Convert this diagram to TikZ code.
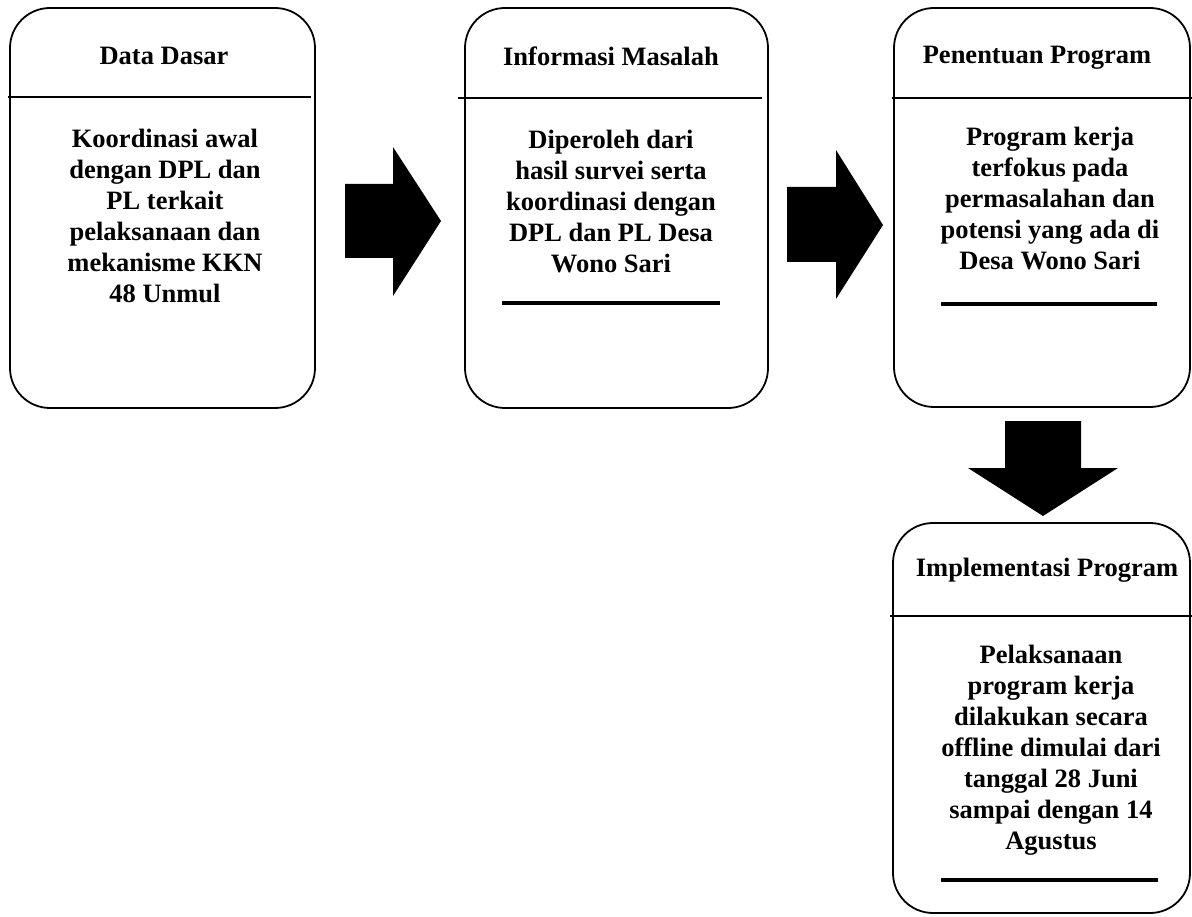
\documentclass[tikz,border=0pt]{standalone}
\usepackage{fontspec}
\setmainfont{Liberation Serif}
\usepackage{tikz}

\tikzset{
  stage/.style={draw, line width=1.8pt, rounded corners=40pt, inner sep=0pt},
  head/.style={font=\fontsize{26.5}{31}\selectfont\bfseries, inner sep=0pt, anchor=base},
  body/.style={font=\fontsize{26.5}{31}\selectfont\bfseries, align=center, inner sep=0pt},
  divider/.style={line width=1.8pt},
  bar/.style={line width=3.5pt},
  blockarrow/.style={fill=black}
}

\begin{document}
\begin{tikzpicture}[x=1pt, y=-1pt]
    \useasboundingbox (0,0) rectangle (1192,917);

    % Data Dasar
    \node[stage, minimum width=305pt, minimum height=400pt] (dasar) at (162.5,208) {};
    \node[head] (dasar-t) at (164,65) {Data Dasar};
    \draw[divider] (8,97) -- (311,97);
    \node[body] (dasar-b) at (165,216) {Koordinasi awal\\dengan DPL dan\\PL terkait\\pelaksanaan dan\\mekanisme KKN\\48 Unmul};

    % Informasi Masalah
    \node[stage, minimum width=303pt, minimum height=400pt] (masalah) at (616.5,208) {};
    \node[head] (masalah-t) at (611,66) {Informasi Masalah};
    \draw[divider] (458,98) -- (762,98);
    \node[body] (masalah-b) at (611,201.5) {Diperoleh dari\\hasil survei serta\\koordinasi dengan\\DPL dan PL Desa\\Wono Sari};
    \draw[bar] (502,303) -- (720,303);

    % Penentuan Program
    \node[stage, minimum width=296pt, minimum height=399pt] (penentuan) at (1042,207.5) {};
    \node[head] (penentuan-t) at (1037,64) {Penentuan Program};
    \draw[divider] (892,98) -- (1192,98);
    \node[body] (penentuan-b) at (1050,199) {Program kerja\\terfokus pada\\permasalahan dan\\potensi yang ada di\\Desa Wono Sari};
    \draw[bar] (941,304) -- (1157,304);

    % Implementasi Program
    \node[stage, minimum width=297pt, minimum height=390pt] (implementasi) at (1041.5,718) {};
    \node[head] (implementasi-t) at (1047,576) {Implementasi Program};
    \draw[divider] (890,616) -- (1192,616);
    \node[body] (implementasi-b) at (1051,750) {Pelaksanaan\\program kerja\\dilakukan secara\\offline dimulai dari\\tanggal 28 Juni\\sampai dengan 14\\Agustus};
    \draw[bar] (941,880) -- (1158,880);

    % Panah
    \fill[blockarrow] (345,184) -- (393,184) -- (393,147) -- (441,221) -- (393,296) -- (393,258) -- (345,258) -- cycle;
    \fill[blockarrow] (787,187) -- (836,187) -- (836,150) -- (883,225) -- (836,299) -- (836,262) -- (787,262) -- cycle;
    \fill[blockarrow] (1005,421) -- (1081,421) -- (1081,468) -- (1118,468) -- (1043,516) -- (968,468) -- (1005,468) -- cycle;
\end{tikzpicture}
\end{document}
